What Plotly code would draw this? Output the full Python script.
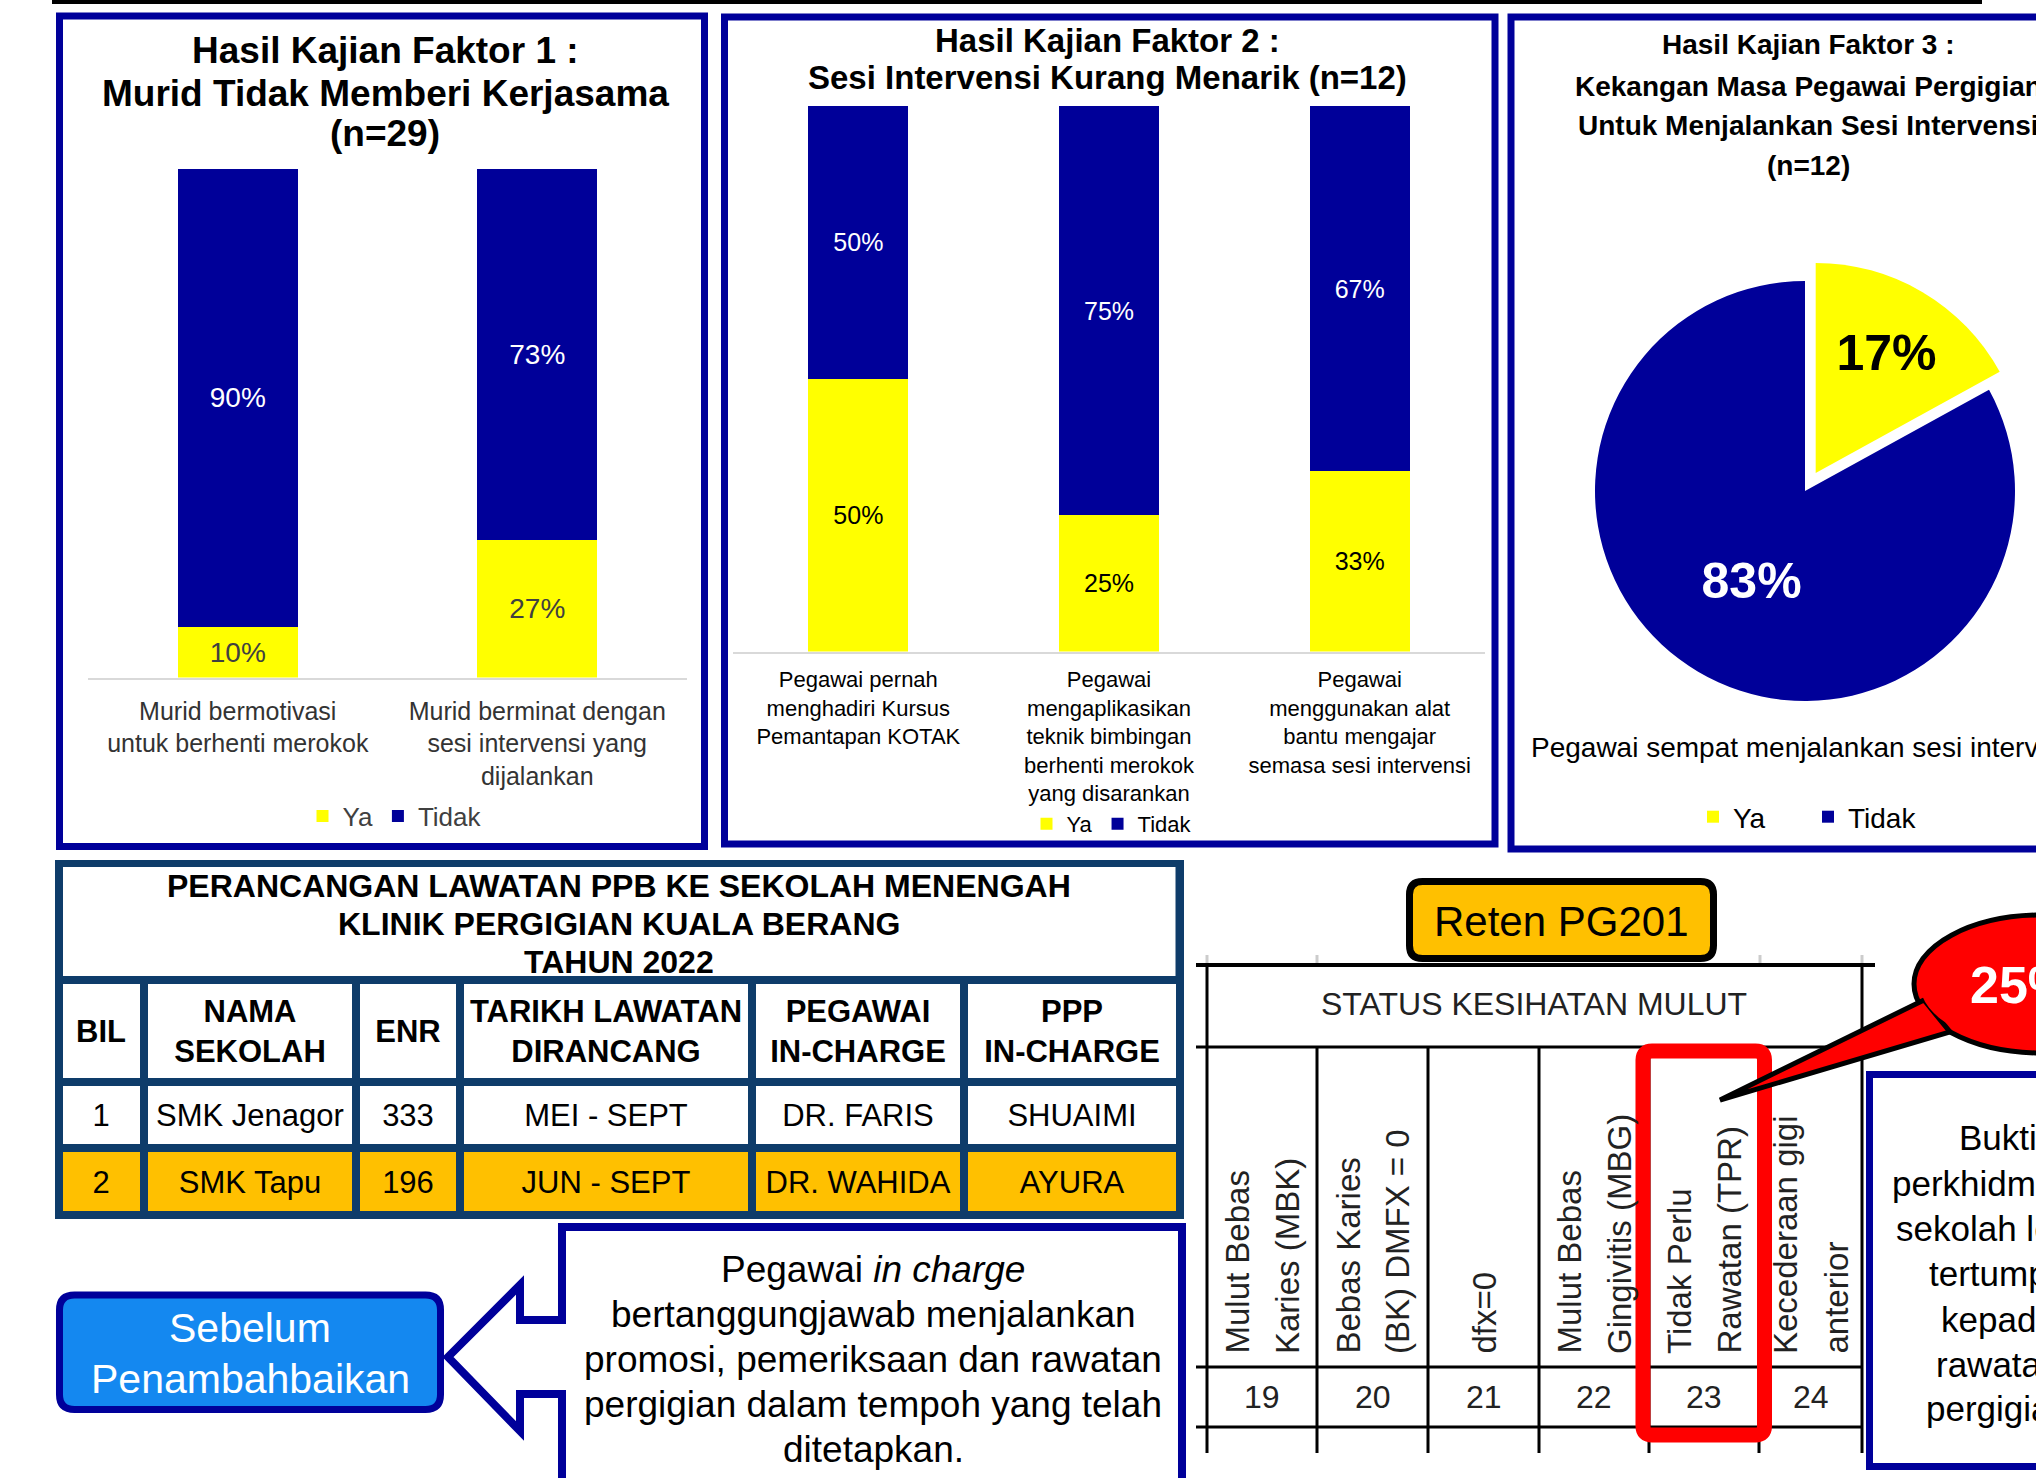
import numpy as np
import plotly.graph_objects as go

W, H = 2036, 1478
ARIAL = "Liberation Sans, Arial, Helvetica, sans-serif"
YA_COL = "#FFFF00"
TIDAK_COL = "#000099"
NAVY = "#00009A"
TBL_LINE = "#0E3C6A"
ORANGE = "#FFC000"

# ---------------- data ----------------
f1_title = ["Hasil Kajian Faktor 1 :", "Murid Tidak Memberi Kerjasama", "(n=29)"]
f1_categories = ["Murid bermotivasi<br>untuk berhenti merokok",
                 "Murid berminat dengan<br>sesi intervensi yang<br>dijalankan"]
f1_ya = [10, 27]
f1_tidak = [90, 73]

f2_title = ["Hasil Kajian Faktor 2 :", "Sesi Intervensi Kurang Menarik (n=12)"]
f2_categories = ["Pegawai pernah<br>menghadiri Kursus<br>Pemantapan KOTAK",
                 "Pegawai<br>mengaplikasikan<br>teknik bimbingan<br>berhenti merokok<br>yang disarankan",
                 "Pegawai<br>menggunakan alat<br>bantu mengajar<br>semasa sesi intervensi"]
f2_ya = [50, 25, 33]
f2_tidak = [50, 75, 67]

f3_title = ["Hasil Kajian Faktor 3 :", "Kekangan Masa Pegawai Pergigian",
            "Untuk Menjalankan Sesi Intervensi", "(n=12)"]
f3_category = "Pegawai sempat menjalankan sesi intervensi"
f3_labels = ["Ya", "Tidak"]
f3_values = [17, 83]

tbl_title = ["PERANCANGAN LAWATAN PPB KE SEKOLAH MENENGAH",
             "KLINIK PERGIGIAN KUALA BERANG", "TAHUN 2022"]
tbl_header = ["BIL", "NAMA<br>SEKOLAH", "ENR", "TARIKH LAWATAN<br>DIRANCANG",
              "PEGAWAI<br>IN-CHARGE", "PPP<br>IN-CHARGE"]
tbl_bil = ["1", "2"]
tbl_sekolah = ["SMK Jenagor", "SMK Tapu"]
tbl_enr = [333, 196]
tbl_tarikh = ["MEI - SEPT", "JUN - SEPT"]
tbl_pegawai = ["DR. FARIS", "DR. WAHIDA"]
tbl_ppp = ["SHUAIMI", "AYURA"]
tbl_highlight = [0, 1]

sebelum_text = ["Sebelum", "Penambahbaikan"]
callout_text = ["Pegawai <i>in charge</i>", "bertanggungjawab menjalankan",
                "promosi, pemeriksaan dan rawatan", "pergigian dalam tempoh yang telah",
                "ditetapkan."]
reten_label = "Reten PG201"
status_title = "STATUS KESIHATAN MULUT"
status_headers = [["Mulut Bebas", "Karies (MBK)"], ["Bebas Karies", "(BK) DMFX = 0"],
                  ["dfx=0"], ["Mulut Bebas", "Gingivitis (MBG)"],
                  ["Tidak Perlu", "Rawatan (TPR)"], ["Kecederaan gigi", "anterior"]]
status_numbers = [19, 20, 21, 22, 23, 24]
bubble_text = "25%"
bukti_text = ["Bukti", "perkhidmatan", "sekolah lebih", "tertumpu", "kepada",
              "rawatan", "pergigian"]

# ---------------- layout helpers ----------------
def px(x):
    return x / W


def py(y):
    return 1 - y / H


def P(x, y):
    return f"{px(x):.5f},{py(y):.5f}"


def path_poly(pts):
    return "M " + " L ".join(P(x, y) for x, y in pts) + " Z"


def path_round(x0, y0, x1, y1, r):
    return (f"M {P(x0 + r, y0)} L {P(x1 - r, y0)} Q {P(x1, y0)} {P(x1, y0 + r)} "
            f"L {P(x1, y1 - r)} Q {P(x1, y1)} {P(x1 - r, y1)} L {P(x0 + r, y1)} "
            f"Q {P(x0, y1)} {P(x0, y1 - r)} L {P(x0, y0 + r)} Q {P(x0, y0)} {P(x0 + r, y0)} Z")


def ann(text, x, y, size, family=ARIAL, color="black", xanchor="center",
        yanchor="middle", angle=0):
    return dict(text=text, x=px(x), y=py(y), xref="paper", yref="paper",
                showarrow=False, font=dict(size=size, family=family, color=color),
                xanchor=xanchor, yanchor=yanchor, textangle=angle)


fig = go.Figure()

# ---------------- chart 1 ----------------
fig.add_trace(go.Bar(x=f1_categories, y=f1_ya, name="Ya", marker=dict(color=YA_COL, line_width=0),
                     width=0.4, texttemplate="%{y}%", textposition="inside",
                     insidetextanchor="middle", textangle=0,
                     textfont=dict(size=28, color="#404040", family=ARIAL),
                     xaxis="x", yaxis="y", legend="legend", hoverinfo="skip"))
fig.add_trace(go.Bar(x=f1_categories, y=f1_tidak, name="Tidak", marker=dict(color=TIDAK_COL, line_width=0),
                     width=0.4, texttemplate="%{y}%", textposition="inside",
                     insidetextanchor="middle", textangle=0,
                     textfont=dict(size=28, color="white", family=ARIAL),
                     xaxis="x", yaxis="y", legend="legend", hoverinfo="skip"))

# ---------------- chart 2 ----------------
fig.add_trace(go.Bar(x=f2_categories, y=f2_ya, name="Ya", marker=dict(color=YA_COL, line_width=0),
                     width=0.4, texttemplate="%{y}%", textposition="inside",
                     insidetextanchor="middle", textangle=0,
                     textfont=dict(size=25, color="black", family=ARIAL),
                     xaxis="x2", yaxis="y2", legend="legend2", hoverinfo="skip"))
fig.add_trace(go.Bar(x=f2_categories, y=f2_tidak, name="Tidak", marker=dict(color=TIDAK_COL, line_width=0),
                     width=0.4, texttemplate="%{y}%", textposition="inside",
                     insidetextanchor="middle", textangle=0,
                     textfont=dict(size=25, color="white", family=ARIAL),
                     xaxis="x2", yaxis="y2", legend="legend2", hoverinfo="skip"))

# ---------------- chart 3 (pie) ----------------
fig.add_trace(go.Pie(labels=f3_labels, values=f3_values, sort=False, direction="clockwise",
                     rotation=0, pull=[0.1, 0],
                     marker=dict(colors=[YA_COL, TIDAK_COL], line=dict(width=0)),
                     texttemplate="<b>%{value}%</b>", textposition="inside",
                     insidetextorientation="horizontal",
                     textfont=dict(size=50, family=ARIAL, color=["black", "white"]),
                     domain=dict(x=[px(1574), px(2036)], y=[py(722), py(260)]),
                     legend="legend3", hoverinfo="skip"))

# ---------------- planning table (heatmap cells) ----------------
COL_W = [84.5, 212, 104, 292, 212, 216]
ROW_H = [101.5, 66.5, 67]
x_edges = np.concatenate([[0], np.cumsum(COL_W)])
y_edges = np.concatenate([[0], np.cumsum(ROW_H)])
rows = list(zip(tbl_bil, tbl_sekolah, tbl_enr, tbl_tarikh, tbl_pegawai, tbl_ppp))
cell_text = [[f"<b>{h}</b>" for h in tbl_header]] + [[str(v) for v in r] for r in rows]
cell_z = [[0] * len(tbl_header)] + [[hl] * len(tbl_header) for hl in tbl_highlight]
fig.add_trace(go.Heatmap(x=x_edges, y=y_edges, z=cell_z, text=cell_text,
                         texttemplate="%{text}",
                         textfont=dict(size=31, family=ARIAL, color="black"),
                         colorscale=[[0, "#FFFFFF"], [1, ORANGE]], zmin=0, zmax=1,
                         showscale=False, xgap=8, ygap=8, hoverinfo="skip",
                         xaxis="x3", yaxis="y3"))

# ---------------- shapes ----------------
shapes = []
# table background (below the cells)
shapes.append(dict(type="rect", xref="paper", yref="paper", x0=px(55), x1=px(1184),
                   y0=py(1219), y1=py(860), fillcolor=TBL_LINE, line_width=0, layer="below"))
shapes.append(dict(type="rect", xref="paper", yref="paper", x0=px(63), x1=px(1175.5),
                   y0=py(976), y1=py(867), fillcolor="white", line_width=0, layer="below"))
# top rule
shapes.append(dict(type="line", xref="paper", yref="paper", x0=px(52), x1=px(1982),
                   y0=py(2), y1=py(2), line=dict(color="black", width=4)))
# panel frames
for (a, b, c, d) in [(59.5, 16, 704.5, 846.5), (724.5, 17, 1495, 844), (1511, 17, 2060, 849)]:
    shapes.append(dict(type="rect", xref="paper", yref="paper", x0=px(a), x1=px(c),
                       y0=py(d), y1=py(b), line=dict(color=NAVY, width=7)))
# Sebelum box
shapes.append(dict(type="path", xref="paper", yref="paper",
                   path=path_round(59.5, 1295, 440.5, 1409.5, 15),
                   fillcolor="#1488F0", line=dict(color=NAVY, width=7)))
# callout box with arrow
shapes.append(dict(type="path", xref="paper", yref="paper",
                   path=path_poly([(562, 1227), (1182, 1227), (1182, 1495), (562, 1495),
                                   (562, 1394), (520, 1394), (520, 1431), (448, 1357),
                                   (520, 1285), (520, 1320), (562, 1320)]),
                   fillcolor="white", line=dict(color=NAVY, width=8)))
# status table lines
ST_X = [1207, 1317, 1428, 1539, 1649, 1759, 1862]
for gx in [1207, 1317, 1760, 1862]:
    shapes.append(dict(type="line", xref="paper", yref="paper", x0=px(gx), x1=px(gx),
                       y0=py(955), y1=py(963), line=dict(color="#CCCCCC", width=3)))
shapes.append(dict(type="line", xref="paper", yref="paper", x0=px(1196), x1=px(1875),
                   y0=py(965), y1=py(965), line=dict(color="black", width=4)))
for hy in [1047, 1367, 1427]:
    shapes.append(dict(type="line", xref="paper", yref="paper", x0=px(1196), x1=px(1862),
                       y0=py(hy), y1=py(hy), line=dict(color="black", width=3)))
for i, vx in enumerate(ST_X):
    top = 965 if i in (0, len(ST_X) - 1) else 1047
    shapes.append(dict(type="line", xref="paper", yref="paper", x0=px(vx), x1=px(vx),
                       y0=py(1453), y1=py(top), line=dict(color="black", width=3)))
# Reten box
shapes.append(dict(type="path", xref="paper", yref="paper",
                   path=path_round(1409.5, 881.5, 1713.5, 958.5, 13),
                   fillcolor=ORANGE, line=dict(color="black", width=7)))
# red highlight
shapes.append(dict(type="path", xref="paper", yref="paper",
                   path=path_round(1643, 1051, 1764.5, 1435, 9),
                   line=dict(color="#FF0000", width=15)))
# right blue box
shapes.append(dict(type="rect", xref="paper", yref="paper", x0=px(1869.5), x1=px(2100),
                   y0=py(1466.5), y1=py(1074.5), fillcolor="white", line=dict(color=NAVY, width=7)))
# speech bubble
shapes.append(dict(type="circle", xref="paper", yref="paper", x0=px(1914), x1=px(2170),
                   y0=py(1053), y1=py(915), fillcolor="#FF0000", line=dict(color="black", width=5)))
shapes.append(dict(type="path", xref="paper", yref="paper",
                   path=path_poly([(1924, 1000), (1720, 1100), (1950, 1032)]),
                   fillcolor="#FF0000", line=dict(color="black", width=5)))
shapes.append(dict(type="circle", xref="paper", yref="paper", x0=px(1920), x1=px(2164),
                   y0=py(1047), y1=py(921), fillcolor="#FF0000", line=dict(width=0)))

# ---------------- annotations ----------------
anns = []
for t, yy in zip(f1_title, [50, 93, 134]):
    anns.append(ann(f"<b>{t}</b>", 385, yy, 37))
for t, yy in zip(f2_title, [41, 77]):
    anns.append(ann(f"<b>{t}</b>", 1107, yy, 33))
for t, yy in zip(f3_title, [44, 86, 125, 165]):
    anns.append(ann(f"<b>{t}</b>", 1808, yy, 28))
anns.append(ann(f3_category, 1529, 747, 28, xanchor="left"))
for t, yy in zip(tbl_title, [886, 924, 962]):
    anns.append(ann(f"<b>{t}</b>", 619, yy, 32))
for t, yy in zip(sebelum_text, [1328, 1379]):
    anns.append(ann(t, 250, yy, 41, color="white"))
for t, yy in zip(callout_text, [1269, 1314, 1359, 1404, 1449]):
    anns.append(ann(t, 873, yy, 37))
anns.append(ann(reten_label, 1561.5, 921, 42))
anns.append(ann(status_title, 1534, 1004, 32, color="#222222"))
for i, lines in enumerate(status_headers):
    c = (ST_X[i] + ST_X[i + 1]) / 2
    offs = [-25, 25] if len(lines) == 2 else [0]
    for t, o in zip(lines, offs):
        anns.append(ann(t, c + o, 1356, 33, color="#222222", yanchor="bottom", angle=-90))
for i, n in enumerate(status_numbers):
    c = (ST_X[i] + ST_X[i + 1]) / 2
    anns.append(ann(str(n), c, 1397, 32, color="#222222"))
anns.append(ann(f"<b>{bubble_text}</b>", 1968, 985, 52, color="white", xanchor="left"))
for t, yy in zip(bukti_text, [1137, 1183, 1228, 1273, 1319, 1364, 1408]):
    anns.append(ann(t, 1998, yy, 35))

# ---------------- layout ----------------
axis_common = dict(showgrid=False, zeroline=False, ticks="", fixedrange=True)
fig.update_layout(
    width=W, height=H, autosize=False,
    margin=dict(l=0, r=0, t=0, b=0, pad=0),
    paper_bgcolor="white", plot_bgcolor="rgba(0,0,0,0)",
    barmode="stack", hovermode=False, showlegend=True,
    xaxis=dict(domain=[px(88), px(687)], anchor="y", type="category", range=[-0.5, 1.5],
               showline=True, linecolor="#D9D9D9", linewidth=2, ticklabelstandoff=10,
               tickfont=dict(size=25, color="#333333", family=ARIAL), **axis_common),
    yaxis=dict(domain=[py(677.5), py(169)], anchor="x", range=[0, 100], visible=False),
    xaxis2=dict(domain=[px(733), px(1485)], anchor="y2", type="category", range=[-0.5, 2.5],
                showline=True, linecolor="#D9D9D9", linewidth=2, ticklabelstandoff=7,
                tickfont=dict(size=22, color="black", family=ARIAL), **axis_common),
    yaxis2=dict(domain=[py(651.5), py(106)], anchor="x2", range=[0, 100], visible=False),
    xaxis3=dict(domain=[px(59), px(1179.5)], anchor="y3", range=[0, float(x_edges[-1])],
                visible=False),
    yaxis3=dict(domain=[py(1215), py(980)], anchor="x3", range=[float(y_edges[-1]), 0],
                visible=False),
    legend=dict(orientation="h", traceorder="normal", x=px(395), xanchor="center",
                y=py(816), yanchor="middle",
                font=dict(size=26, color="#404040", family=ARIAL), bgcolor="rgba(0,0,0,0)"),
    legend2=dict(orientation="h", traceorder="normal", x=px(1112), xanchor="center",
                 y=py(824), yanchor="middle",
                 font=dict(size=22, color="black", family=ARIAL), bgcolor="rgba(0,0,0,0)"),
    legend3=dict(orientation="h", traceorder="normal", x=px(1808), xanchor="center",
                 y=py(817), yanchor="middle",
                 font=dict(size=28, color="black", family=ARIAL), bgcolor="rgba(0,0,0,0)",
                 entrywidth=70, entrywidthmode="pixels"),
    shapes=shapes,
    annotations=anns,
)

fig.write_html("out.html")
